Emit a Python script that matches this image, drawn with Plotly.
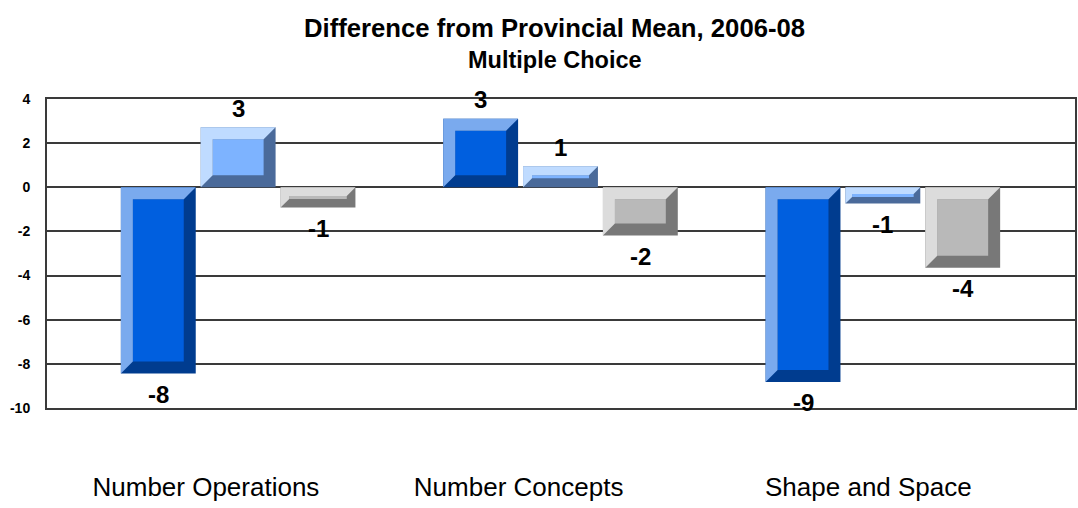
import plotly.graph_objects as go

# ---- data -------------------------------------------------------------
categories = ["Number Operations", "Number Concepts", "Shape and Space"]
series_names = ["2006", "2007", "2008"]
values_2006 = [-8.44, 3.11, -8.82]
values_2007 = [2.72, 0.95, -0.74]
values_2008 = [-0.92, -2.18, -3.64]
y_ticks = [-10, -8, -6, -4, -2, 0, 2, 4]
y_tick_labels = ["-10", "-8", "-6", "-4", "-2", "0", "2", "4"]

series_values = [values_2006, values_2007, values_2008]

# (face, top/left bevel, bottom/right bevel)
series_colors = [
    ("#005FDF", "#7AAAEE", "#003C8F"),
    ("#7DB3FF", "#BFDBFF", "#4A6A9A"),
    ("#B9B9B9", "#DCDCDC", "#787878"),
]

# ---- geometry ---------------------------------------------------------
W, H = 1078, 508
M_L, M_R, M_T, M_B = 47, 1, 99, 100
X_RANGE = [-0.593, 2.596]
Y_RANGE = [-10, 4]
plot_w = W - M_L - M_R
plot_h = H - M_T - M_B
px_x = plot_w / (X_RANGE[1] - X_RANGE[0])   # pixels per x unit
px_y = plot_h / (Y_RANGE[1] - Y_RANGE[0])   # pixels per y unit

SLOT_PX, BAR_PX, BEVEL_PX = 80, 75, 12
slot = SLOT_PX / px_x
bar_w = BAR_PX / px_x

FONT = "Arial, Liberation Sans, sans-serif"
GRID = "#3a3a3a"

fig = go.Figure()
value_labels = []

for k, (name, vals, (face, light, dark)) in enumerate(
        zip(series_names, series_values, series_colors)):
    xs = [i + (k - 1) * slot for i in range(len(categories))]

    # full bar in the shadow colour
    fig.add_trace(go.Bar(
        x=xs, y=vals, width=bar_w, name=name,
        marker=dict(color=dark, line=dict(width=0)),
        showlegend=False, hoverinfo="skip",
    ))

    # bevel geometry for each bar
    face_base, face_h, face_w = [], [], []
    px_list, py_list = [], []
    for x, v in zip(xs, vals):
        lo, hi = min(0, v), max(0, v)
        h_px = abs(v) * px_y
        b = max(1.0, min(BEVEL_PX, (h_px - 3) / 2))
        bx, by = b / px_x, b / px_y
        x0, x1 = x - bar_w / 2, x + bar_w / 2
        face_base.append(lo + by)
        face_h.append((hi - by) - (lo + by))
        face_w.append(bar_w - 2 * bx)
        # light band along the left and top edges
        px_list += [x0, x0, x1, x1 - bx, x0 + bx, x0 + bx, x0, None]
        py_list += [lo, hi, hi, hi - by, hi - by, lo + by, lo, None]
        # value label just beyond the end of the bar
        value_labels.append(dict(
            text=f"<b>{v:.0f}</b>", x=x, y=v, xref="x", yref="y",
            xanchor="center", yanchor="middle", showarrow=False,
            yshift=19 if v >= 0 else -21,
            font=dict(family=FONT, size=24, color="black"),
        ))

    # inner face
    fig.add_trace(go.Bar(
        x=xs, y=face_h, base=face_base, width=face_w,
        marker=dict(color=face, line=dict(width=0)),
        showlegend=False, hoverinfo="skip",
    ))
    # highlight bevel
    fig.add_trace(go.Scatter(
        x=px_list, y=py_list, mode="lines", fill="toself",
        fillcolor=light, line=dict(width=0, color=light),
        showlegend=False, hoverinfo="skip",
    ))

fig.update_layout(
    width=W, height=H,
    margin=dict(l=M_L, r=M_R, t=M_T, b=M_B, pad=0),
    barmode="overlay",
    plot_bgcolor="white", paper_bgcolor="white",
    font=dict(family=FONT, color="black"),
    showlegend=False,
    xaxis=dict(
        range=X_RANGE, tickmode="array",
        tickvals=[-0.10, 0.87, 1.955], ticktext=categories,
        showgrid=False, zeroline=False, ticks="",
        showline=True, mirror=True, linecolor=GRID, linewidth=2,
        tickfont=dict(family=FONT, size=26, color="black"),
        ticklabelstandoff=55,
    ),
    yaxis=dict(
        range=Y_RANGE, tickmode="array",
        tickvals=y_ticks, ticktext=y_tick_labels,
        showgrid=True, gridcolor=GRID, gridwidth=2,
        zeroline=True, zerolinecolor=GRID, zerolinewidth=2,
        showline=True, mirror=True, linecolor=GRID, linewidth=2,
        ticks="", ticklabelstandoff=12,
        tickfont=dict(family=FONT, size=14, color="black", weight="bold"),
    ),
    annotations=value_labels + [
        dict(text="<b>Difference from Provincial Mean, 2006-08</b>",
             xref="paper", yref="paper", x=0.4937, y=1.23,
             xanchor="center", yanchor="middle", showarrow=False,
             font=dict(family=FONT, size=25.7, color="black")),
        dict(text="<b>Multiple Choice</b>",
             xref="paper", yref="paper", x=0.4937, y=1.126,
             xanchor="center", yanchor="middle", showarrow=False,
             font=dict(family=FONT, size=23.5, color="black")),
    ],
)

fig.write_html("out.html")
